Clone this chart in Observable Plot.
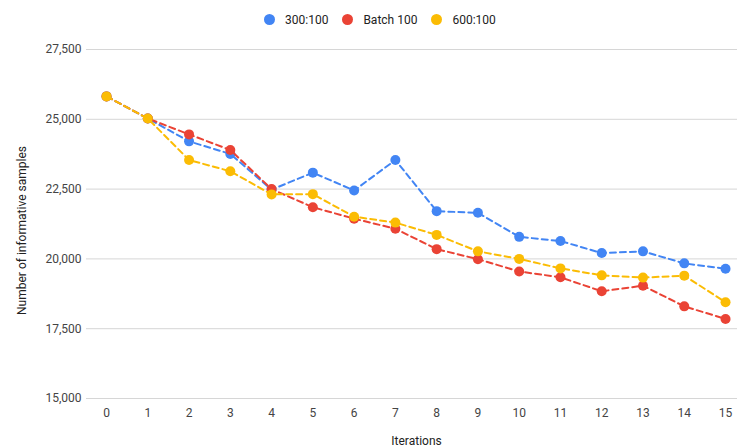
<!DOCTYPE html>
<html>
<head>
<meta charset="utf-8">
<script src="https://cdn.jsdelivr.net/npm/d3@7"></script>
<script src="https://cdn.jsdelivr.net/npm/@observablehq/plot@0.6"></script>
<style>
  html, body { margin: 0; padding: 0; background: #fff; }
  body { width: 737px; height: 448px; overflow: hidden; font-family: Roboto, Arial, sans-serif; }
  #legend { height: 36px; display: flex; align-items: center; padding-left: 264px; padding-top: 3px; box-sizing: border-box; font-size: 12px; color: #222; }
  .item { display: flex; align-items: center; margin-right: 14px; }
  .sw { width: 11px; height: 11px; border-radius: 50%; margin-right: 10px; }
  svg { display: block; }
</style>
</head>
<body>
<div id="legend"></div>
<div id="chart"></div>
<script>
const iterations = [0, 1, 2, 3, 4, 5, 6, 7, 8, 9, 10, 11, 12, 13, 14, 15];
const seriesNames = ["300:100", "Batch 100", "600:100"];
const seriesColors = ["#4285F4", "#EA4335", "#FBBC04"];
const s300 = [25820, 25030, 24210, 23760, 22480, 23090, 22450, 23540, 21710, 21650, 20790, 20640, 20210, 20270, 19840, 19650];
const batch100 = [25820, 25030, 24460, 23900, 22500, 21850, 21440, 21080, 20350, 19990, 19550, 19340, 18840, 19040, 18300, 17850];
const s600 = [25820, 25030, 23540, 23140, 22310, 22320, 21510, 21300, 20860, 20270, 20000, 19660, 19410, 19330, 19400, 18450];
const yTicks = [15000, 17500, 20000, 22500, 25000, 27500];

const allValues = [s300, batch100, s600];
const rows = [];
allValues.forEach((vals, si) => {
  vals.forEach((v, i) => rows.push({series: seriesNames[si], iter: iterations[i], value: v}));
});

const legend = document.getElementById("legend");
seriesNames.forEach((n, i) => {
  const it = document.createElement("div");
  it.className = "item";
  it.innerHTML = `<span class="sw" style="background:${seriesColors[i]}"></span><span>${n}</span>`;
  legend.appendChild(it);
});

const marks = [
  Plot.ruleY(yTicks, {stroke: "#d6d6d6", strokeWidth: 1}),
  Plot.axisY({ticks: yTicks, tickSize: 0, tickPadding: 5, tickFormat: d3.format(","), label: null, fill: "#444"}),
  Plot.axisX({ticks: iterations, tickSize: 0, tickPadding: 10, tickFormat: d => String(d), label: null, fill: "#444"}),
  Plot.text(["Number of informative samples"], {frameAnchor: "left", rotate: -90, dx: -64, dy: 6.5, textAnchor: "middle", fill: "#222", fontSize: 12}),
  Plot.text(["Iterations"], {frameAnchor: "bottom", dx: 4.5, dy: 46, textAnchor: "middle", fill: "#222", fontSize: 12})
];
seriesNames.forEach((n, i) => {
  const d = rows.filter(r => r.series === n);
  marks.push(Plot.line(d, {x: "iter", y: "value", stroke: seriesColors[i], strokeWidth: 2, strokeDasharray: "6,4"}));
  marks.push(Plot.dot(d, {x: "iter", y: "value", r: 5, fill: seriesColors[i], stroke: "none"}));
});

const chart = Plot.plot({
  width: 737,
  height: 412,
  marginTop: 13,
  marginBottom: 50,
  marginLeft: 86,
  marginRight: 0,
  style: {fontFamily: "Roboto, Arial, sans-serif", fontSize: "12px", background: "#fff"},
  x: {type: "linear", domain: [-0.485, 15.29]},
  y: {domain: [15000, 27500]},
  marks
});
document.getElementById("chart").appendChild(chart);
</script>
</body>
</html>
